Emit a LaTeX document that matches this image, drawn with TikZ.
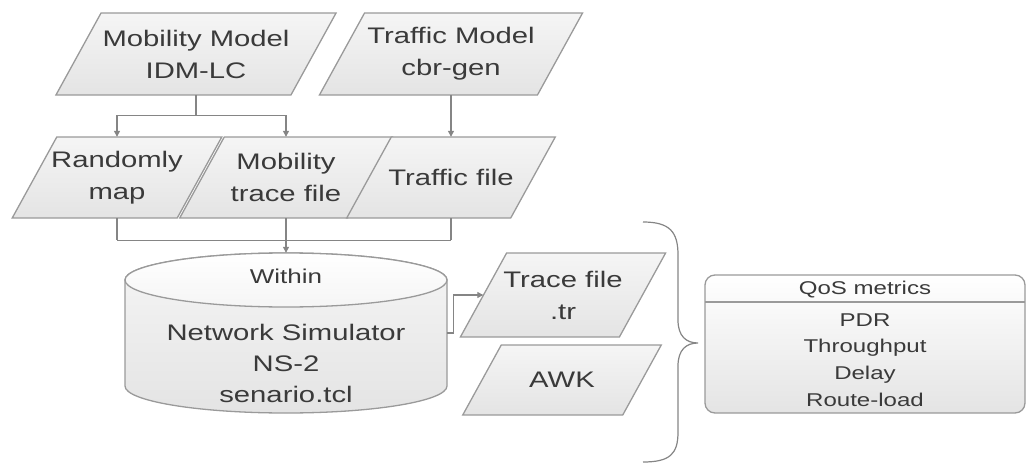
\documentclass[tikz,border=0pt]{standalone}
\usepackage{fontspec}
\setmainfont{Liberation Sans}[FakeStretch=1.3]
\usetikzlibrary{arrows.meta}

\definecolor{ink}{HTML}{3A3A3A}
\definecolor{edge}{HTML}{9A9A9A}
\definecolor{filltop}{HTML}{F5F5F5}
\definecolor{fillbot}{HTML}{E4E4E4}
\definecolor{wirecol}{HTML}{858585}

\tikzset{
  txt/.style={inner sep=0pt, text=ink, align=center, font=\fontsize{22.5}{32}\selectfont},
  small/.style={txt, font=\fontsize{18.5}{26.7}\selectfont},
  boxfill/.style={draw=edge, line width=1.3pt, top color=filltop, bottom color=fillbot},
  wire/.style={draw=wirecol, line width=1.1pt},
  arrowwire/.style={wire, -{Triangle[length=6pt,width=6pt]}},
  frame/.style={inner sep=0pt, minimum width=#1},
}

% data box: name, centre x, centre y, width at mid height, height, text
\newcommand\databox[6]{%
  \path[boxfill] ({#2-#4/2-0.275*#5},{#3+#5/2}) -- ({#2+#4/2-0.275*#5},{#3+#5/2})
    -- ({#2+#4/2+0.275*#5},{#3-#5/2}) -- ({#2-#4/2+0.275*#5},{#3-#5/2}) -- cycle;
  \node[txt, minimum width=#4, minimum height=#5] (#1) at (#2,#3) {#6};
}

\begin{document}
\begin{tikzpicture}[x=1pt,y=-1pt]
\useasboundingbox (0,0) rectangle (1029,463);

% input models
\databox{mm}{196}{54}{235}{82}{Mobility Model\\IDM-LC}
\databox{tm}{451}{54}{218}{82}{Traffic Model\\cbr-gen}

% generated files
\databox{rm}{117}{177.5}{165}{81}{Randomly\\map}
\databox{mt}{286}{177.5}{168}{81}{Mobility\\trace file}
\databox{tf}{451}{177.5}{164}{81}{Traffic file}

% simulator drum
\node[inner sep=0pt, minimum width=322, minimum height=160] (ns) at (286,333) {};
\path[boxfill] (125,280) -- (125,386)
  arc[start angle=180, end angle=360, x radius=161pt, y radius=27pt]
  -- (447,280)
  arc[start angle=0, end angle=180, x radius=161pt, y radius=27pt] -- cycle;
\path[draw=edge, line width=1.3pt, top color=white, bottom color=filltop]
  (286,280) ellipse[x radius=161pt, y radius=27pt];
\node[txt, font=\fontsize{20}{24}\selectfont] (within) at (286,276) {Within};
\node[txt, font=\fontsize{22.5}{31}\selectfont] (nsname) at (286,363)
  {Network Simulator\\NS-2\\senario.tcl};

% outputs
\databox{tr}{563}{295}{159}{84}{Trace file\\.tr}
\databox{awk}{562}{380}{160}{70}{AWK}

% results panel
\node[inner sep=0pt, minimum width=320, minimum height=138, rounded corners=10pt,
      draw=edge, line width=1.3pt, top color=white, bottom color=fillbot] (qos) at (865,344) {};
\draw[draw=edge, line width=1.3pt] (705,302) -- (1025,302);
\node[small] (qoshead) at (865,290) {QoS metrics};
\node[small] (qoslist) at (865,360) {PDR\\Throughput\\Delay\\Route-load};

% connectors
\draw[wire] (mm.south) -- ++(0,20) coordinate (split);
\draw[arrowwire] (split) -| (rm.north);
\draw[arrowwire] (split) -| (mt.north);
\draw[arrowwire] (tm.south) -- (tf.north);

\draw[wire] (rm.south) -- ++(0,22) coordinate (joinl);
\draw[wire] (tf.south) -- ++(0,22) coordinate (joinr);
\draw[wire] (joinl) -- (joinr);
\draw[arrowwire] (mt.south) -- (ns.north);

\draw[arrowwire] (ns.east) -- ++(6,0) |- (tr.west);

% brace gathering the outputs
\draw[draw=wirecol, line width=1.2pt]
  (643,222) .. controls (670,222) and (678,232) .. (678,255) -- (678,320)
  .. controls (678,336) and (686,343) .. (698,343)
  .. controls (686,343) and (678,350) .. (678,366) -- (678,432)
  .. controls (678,454) and (670,462) .. (643,462);
\end{tikzpicture}
\end{document}
